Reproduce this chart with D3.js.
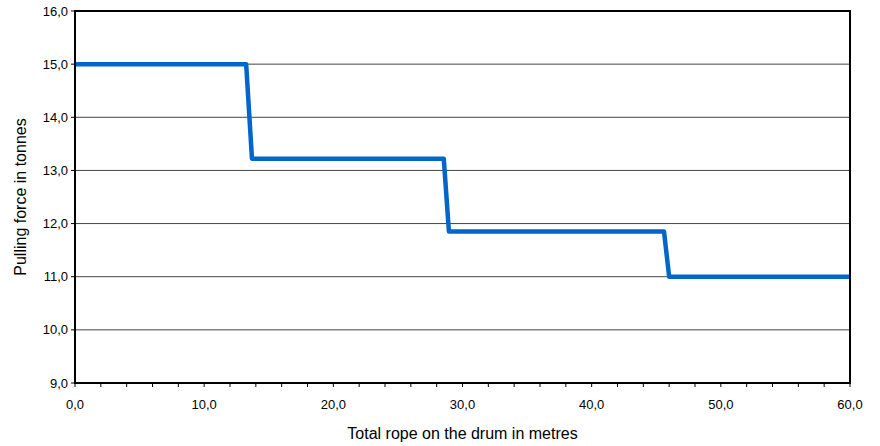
<!DOCTYPE html>
<html>
<head>
<meta charset="utf-8">
<script src="https://cdn.jsdelivr.net/npm/d3@7"></script>
<style>
  body { margin: 0; background: #fff; }
  text { font-family: "Liberation Sans", Arial, sans-serif; fill: #000; }
</style>
</head>
<body>
<svg id="chart" width="880" height="446" viewBox="0 0 880 446"></svg>
<script>
// rope length (m) and pulling force (t) at each corner of the step line
const ropeMetres = [0, 13.25, 13.7, 28.55, 28.95, 45.6, 46.0, 60];
const forceTonnes = [15.0, 15.0, 13.22, 13.22, 11.85, 11.85, 11.0, 11.0];
const xTicks = [0, 10, 20, 30, 40, 50, 60];
const xMinorTicks = d3.range(0, 60.01, 2);
const yTicks = [9, 10, 11, 12, 13, 14, 15, 16];

const svg = d3.select("#chart");
const margin = { left: 75, right: 30, top: 11, bottom: 63 };
const width = 880, height = 446;

const x = d3.scaleLinear().domain([0, 60]).range([margin.left, width - margin.right]);
const y = d3.scaleLinear().domain([9, 16]).range([height - margin.bottom, margin.top]);

const fmt = d => d.toFixed(1).replace(".", ",");

// horizontal grid
svg.append("g")
    .selectAll("line")
    .data(yTicks.slice(1, -1))
    .enter()
    .append("line")
    .attr("x1", x(0))
    .attr("x2", x(60))
    .attr("y1", d => y(d))
    .attr("y2", d => y(d))
    .attr("stroke", "#444")
    .attr("stroke-width", 1);

// y axis ticks and labels
const yAxis = svg.append("g");
yAxis.selectAll("line")
    .data(yTicks)
    .enter()
    .append("line")
    .attr("x1", x(0) - 4)
    .attr("x2", x(0))
    .attr("y1", d => y(d))
    .attr("y2", d => y(d))
    .attr("stroke", "#000");
yAxis.selectAll("text")
    .data(yTicks)
    .enter()
    .append("text")
    .attr("x", x(0) - 7)
    .attr("y", d => y(d))
    .attr("dy", "0.35em")
    .attr("text-anchor", "end")
    .style("font-size", "13px")
    .text(fmt);

// x axis ticks and labels
const xAxis = svg.append("g");
xAxis.selectAll("line")
    .data(xMinorTicks)
    .enter()
    .append("line")
    .attr("x1", d => x(d))
    .attr("x2", d => x(d))
    .attr("y1", y(9))
    .attr("y2", y(9) + 4)
    .attr("stroke", "#000");
xAxis.selectAll("text")
    .data(xTicks)
    .enter()
    .append("text")
    .attr("x", d => x(d))
    .attr("y", y(9) + 26)
    .attr("text-anchor", "middle")
    .style("font-size", "13px")
    .text(fmt);

// step line
const line = d3.line()
    .x((d, i) => x(ropeMetres[i]))
    .y(d => y(d));

svg.append("path")
    .datum(forceTonnes)
    .attr("d", line)
    .attr("fill", "none")
    .attr("stroke", "#0066CC")
    .attr("stroke-width", 4.5)
    .attr("stroke-linejoin", "round");

// plot frame
svg.append("rect")
    .attr("x", x(0))
    .attr("y", y(16))
    .attr("width", x(60) - x(0))
    .attr("height", y(9) - y(16))
    .attr("fill", "none")
    .attr("stroke", "#000")
    .attr("stroke-width", 2);

// axis titles
svg.append("text")
    .attr("x", (x(0) + x(60)) / 2)
    .attr("y", 439)
    .attr("text-anchor", "middle")
    .style("font-size", "16px")
    .text("Total rope on the drum in metres");

svg.append("text")
    .attr("transform", `translate(26, ${(y(9) + y(16)) / 2}) rotate(-90)`)
    .attr("text-anchor", "middle")
    .style("font-size", "16px")
    .text("Pulling force in tonnes");
</script>
</body>
</html>
